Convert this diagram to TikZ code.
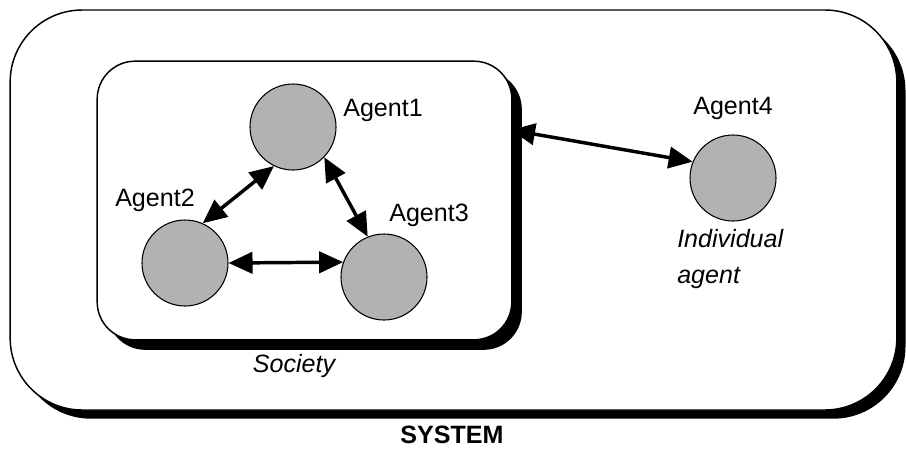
\documentclass[tikz,border=0pt]{standalone}
\usepackage{fontspec}
\setmainfont{Liberation Sans}
\usetikzlibrary{arrows.meta,shadows}
\begin{document}
\begin{tikzpicture}[x=0.75pt,y=-0.75pt,
  box/.style={draw=black, fill=white, line width=1.1pt, inner sep=0pt,
    drop shadow={shadow xshift=#1, shadow yshift=-#1, fill=black, opacity=1}},
  agent/.style={circle, draw=black, line width=0.8pt, fill=black!30,
    minimum size=64.5pt, inner sep=0pt},
  lbl/.style={font=\fontsize{18.8}{27}\selectfont, inner sep=0pt},
  link/.style={line width=2.6pt,
    {Triangle[length=18pt,width=16pt]}-{Triangle[length=18pt,width=16pt]}}
]
\useasboundingbox (0,0) rectangle (906,451);

% system and society frames
\node[box=6.5pt, rounded corners=54pt, minimum width=665pt, minimum height=300pt]
  (sys) at (453.5,210) {};
\node[box=7.5pt, rounded corners=28.5pt, minimum width=311pt, minimum height=209pt]
  (soc) at (304.5,200.5) {};

% agents
\node[agent] (a1) at (293,127) {};
\node[agent] (a2) at (185,263) {};
\node[agent] (a3) at (384,277) {};
\node[agent] (a4) at (733,178) {};

% agent names
\node[lbl] (l1) at (383,110) {Agent1};
\node[lbl] (l2) at (155,200) {Agent2};
\node[lbl] (l3) at (429,215) {Agent3};
\node[lbl] (l4) at (733,108) {Agent4};
\node[lbl, anchor=north west, align=left, font=\fontsize{18.8}{27}\selectfont\itshape]
  (ind) at (677,229) {Individual\\agent};
\node[lbl, font=\fontsize{18.8}{27}\selectfont\itshape] (socl) at (294,366) {Society};
\node[lbl, font=\fontsize{18.8}{27}\selectfont\bfseries] (sysl) at (452,435) {SYSTEM};

% interactions
\coordinate (edge) at (511,130);
\draw[link] (a1.244) -- (a2.66);
\draw[link] (a1.316) -- (a3.112);
\draw[link] (a2.east) -- (a3.160);
\draw[link] (edge) -- (a4.158);
\end{tikzpicture}
\end{document}
